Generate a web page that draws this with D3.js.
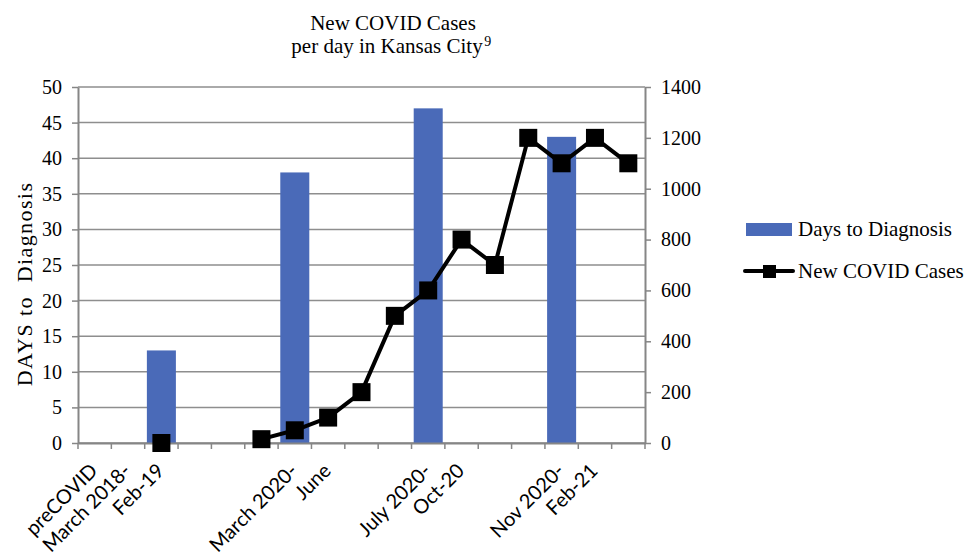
<!DOCTYPE html>
<html>
<head>
<meta charset="utf-8">
<script src="https://cdn.jsdelivr.net/npm/d3@7"></script>
<style>
  html, body { margin: 0; padding: 0; background: #fff; }
  svg { display: block; }
</style>
</head>
<body>
<svg id="chart" width="966" height="555"></svg>
<script>
// Period slots along the x axis (one slot per category, most unlabeled)
const categories = ["preCOVID", "March 2018-", "Feb-19", "", "", "", "March 2020-", "June", "", "", "July 2020-", "Oct-20", "", "", "Nov 2020-", "Feb-21", ""];
// Days to diagnosis (bars, left axis)
const daysToDiagnosis = [null, null, 13, null, null, null, 38, null, null, null, 47, null, null, null, 43, null, null];
// New COVID cases per day (line, right axis)
const newCases = [null, null, 0, null, null, 15, 50, 100, 200, 500, 600, 800, 700, 1200, 1100, 1200, 1100];
const leftTicks = [0, 5, 10, 15, 20, 25, 30, 35, 40, 45, 50];
const rightTicks = [0, 200, 400, 600, 800, 1000, 1200, 1400];

const svg = d3.select("#chart");
const plot = { left: 78, right: 645, top: 87, bottom: 443 };
const axisColor = "#868686";
const barColor = "#4a6ab8";
const serif = "'Liberation Serif', 'Times New Roman', serif";

const idx = d3.range(categories.length);
const x = d3.scaleBand().domain(idx).range([plot.left, plot.right]).padding(0);
const cx = i => x(i) + x.bandwidth() / 2;
const yL = d3.scaleLinear().domain([0, 50]).range([plot.bottom, plot.top]);
const yR = d3.scaleLinear().domain([0, 1400]).range([plot.bottom, plot.top]);

// Horizontal gridlines
svg.append("g")
  .selectAll("line")
  .data(leftTicks)
  .join("line")
  .attr("x1", plot.left).attr("x2", plot.right)
  .attr("y1", d => yL(d)).attr("y2", d => yL(d))
  .attr("stroke", "#8e8e8e").attr("stroke-width", 1.5);

// Bars
const barW = x.bandwidth() * 0.87;
svg.append("g")
  .selectAll("rect")
  .data(idx.filter(i => daysToDiagnosis[i] != null))
  .join("rect")
  .attr("x", i => cx(i) - barW / 2)
  .attr("width", barW)
  .attr("y", i => yL(daysToDiagnosis[i]))
  .attr("height", i => plot.bottom - yL(daysToDiagnosis[i]))
  .attr("fill", barColor);

// Left axis
const gL = svg.append("g")
  .attr("transform", `translate(${plot.left},0)`)
  .call(d3.axisLeft(yL).tickValues(leftTicks).tickSize(6).tickSizeOuter(0).tickPadding(10));
// Right axis
const gR = svg.append("g")
  .attr("transform", `translate(${plot.right},0)`)
  .call(d3.axisRight(yR).tickValues(rightTicks).tickFormat(d3.format("d")).tickSize(6).tickSizeOuter(0).tickPadding(10));
// Bottom axis with ticks on category boundaries
const gB = svg.append("g")
  .attr("transform", `translate(0,${plot.bottom})`)
  .call(d3.axisBottom(x).tickSize(0).tickFormat(""));
gB.selectAll("line.bnd")
  .data(d3.range(categories.length + 1))
  .join("line")
  .attr("class", "bnd")
  .attr("x1", i => plot.left + i * x.bandwidth())
  .attr("x2", i => plot.left + i * x.bandwidth())
  .attr("y1", 0).attr("y2", 6)
  .attr("stroke", axisColor).attr("stroke-width", 1.5);

[gL, gR, gB].forEach(g => {
  g.selectAll("path.domain").attr("stroke", axisColor).attr("stroke-width", 2);
  g.selectAll(".tick line").attr("stroke", axisColor).attr("stroke-width", 1.5);
  g.selectAll(".tick text").attr("font-family", serif).attr("font-size", 20).attr("fill", "#000");
});

// Rotated category labels
svg.append("g")
  .selectAll("text")
  .data(idx.filter(i => categories[i] !== ""))
  .join("text")
  .attr("transform", i => `translate(${cx(i) + 4},${plot.bottom + 29}) rotate(-45)`)
  .attr("text-anchor", "end")
  .attr("font-family", "Lato, 'Open Sans', sans-serif")
  .attr("font-size", 20)
  .attr("fill", "#000")
  .text(i => categories[i]);

// Line series: draw segments only between consecutive reported values
const line = d3.line()
  .defined(i => newCases[i] != null)
  .x(i => cx(i))
  .y(i => yR(newCases[i]));
svg.append("path")
  .datum(idx)
  .attr("d", line)
  .attr("fill", "none")
  .attr("stroke", "#000")
  .attr("stroke-width", 4)
  .attr("stroke-linejoin", "round");

const mk = 18;
svg.append("g")
  .selectAll("rect")
  .data(idx.filter(i => newCases[i] != null))
  .join("rect")
  .attr("x", i => cx(i) - mk / 2)
  .attr("y", i => yR(newCases[i]) - mk / 2)
  .attr("width", mk).attr("height", mk)
  .attr("fill", "#000");

// Title
const title = svg.append("text")
  .attr("text-anchor", "middle")
  .attr("font-family", serif).attr("font-size", 21).attr("fill", "#000");
title.append("tspan").attr("x", 393).attr("y", 30).text("New COVID Cases");
title.append("tspan").attr("x", 387).attr("y", 53).text("per day in Kansas City");
const sup = svg.append("text")
  .attr("font-family", serif).attr("font-size", 14).attr("fill", "#000");

// Left axis title
svg.append("text")
  .attr("transform", `translate(32,284) rotate(-90)`)
  .attr("text-anchor", "middle")
  .attr("font-family", serif).attr("font-size", 22).attr("fill", "#000")
  .attr("letter-spacing", 1.4)
  .attr("xml:space", "preserve")
  .text("DAYS to  Diagnosis");

// Legend
const lg = svg.append("g");
lg.append("rect").attr("x", 746).attr("y", 223).attr("width", 46).attr("height", 13).attr("fill", barColor);
lg.append("text").attr("x", 798).attr("y", 236)
  .attr("font-family", serif).attr("font-size", 21).attr("fill", "#000").text("Days to Diagnosis");
lg.append("line").attr("x1", 745).attr("x2", 793).attr("y1", 271).attr("y2", 271)
  .attr("stroke", "#000").attr("stroke-width", 4).attr("stroke-linecap", "round");
lg.append("rect").attr("x", 763).attr("y", 265).attr("width", 13).attr("height", 13).attr("fill", "#000");
lg.append("text").attr("x", 798).attr("y", 278)
  .attr("font-family", serif).attr("font-size", 21).attr("fill", "#000").text("New COVID Cases");

// Footnote marker placed right after the second title line
const t2 = title.selectAll("tspan").nodes()[1];
const bb = t2.getBBox();
sup.attr("x", bb.x + bb.width + 1).attr("y", 46).text("9");
</script>
</body>
</html>
